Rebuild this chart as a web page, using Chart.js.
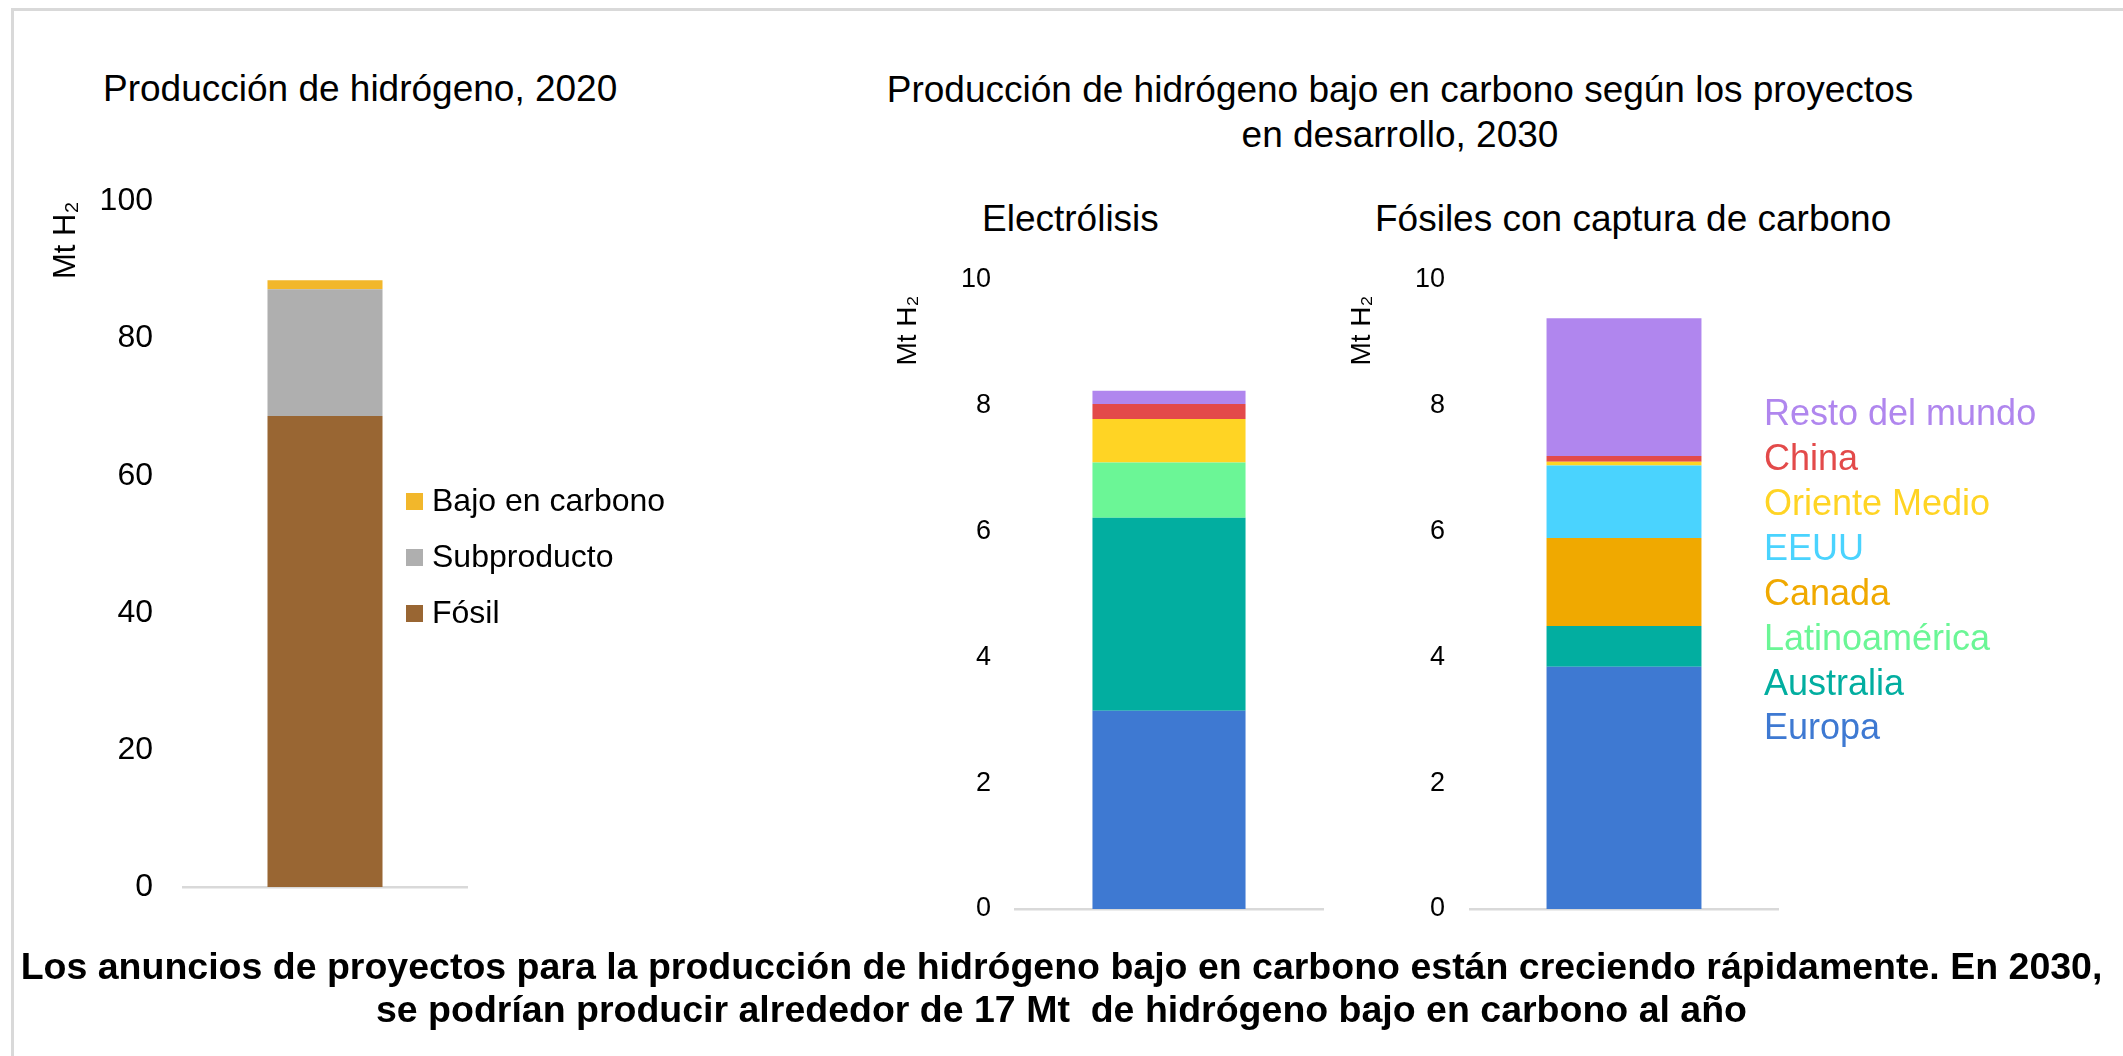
<!DOCTYPE html>
<html lang="es">
<head>
<meta charset="utf-8">
<title>Producción de hidrógeno</title>
<script src="https://cdn.jsdelivr.net/npm/chart.js@4.4.1/dist/chart.umd.min.js"></script>
<style>
  html, body { margin: 0; padding: 0; background: #fff; }
  body { width: 2123px; height: 1056px; position: relative; overflow: hidden;
         font-family: "Liberation Sans", Arial, sans-serif; color: #000; }
  .frame { position: absolute; left: 11px; top: 8px; right: -10px; bottom: -10px;
           border-top: 3px solid #d9d9d9; border-left: 3px solid #d9d9d9; }
  canvas { position: absolute; }
  .txt { position: absolute; white-space: nowrap; }
  .title { font-size: 37px; line-height: 37px; }
  .box { position: absolute; width: 17px; height: 17px; }
</style>
</head>
<body>
<div class="frame"></div>

<div class="txt title" style="left:103px; top:70px;">Producción de hidrógeno, 2020</div>
<div class="txt title" style="left:800px; width:1200px; top:67px; line-height:45px; text-align:center;">Producción de hidrógeno bajo en carbono según los proyectos<br>en desarrollo, 2030</div>
<div class="txt title" style="left:982px; top:200px;">Electrólisis</div>
<div class="txt title" style="left:1375px; top:200px;">Fósiles con captura de carbono</div>

<canvas id="c2020" width="500" height="789" style="left:0px; top:150px;"></canvas>
<canvas id="cElec" width="520" height="754" style="left:830px; top:200px;"></canvas>
<canvas id="cFos" width="520" height="754" style="left:1290px; top:200px;"></canvas>

<div id="legend2020"></div>
<div id="legend2030"></div>

<div class="txt" style="left:0; width:2123px; top:945px; line-height:43px; text-align:center; font-size:37.5px; font-weight:bold;">Los anuncios de proyectos para la producción de hidrógeno bajo en carbono están creciendo rápidamente. En 2030,<br>se podrían producir alrededor de 17 Mt&nbsp; de hidrógeno bajo en carbono al año</div>

<script>
// datos 2020
const cat2020 = ['2020'];
const fosil2020 = [68.7];
const subproducto2020 = [18.5];
const bajoCarbono2020 = [1.3];

// datos 2030, proyectos en desarrollo (Mt H2)
const cat2030 = ['2030'];
const regiones = ['Europa', 'Australia', 'Latinoamérica', 'Canada', 'EEUU', 'Oriente Medio', 'China', 'Resto del mundo'];
const electrolisis = [3.15, 3.07, 0.88, 0, 0, 0.69, 0.24, 0.21];
const fosilesCCUS = [3.85, 0.65, 0, 1.40, 1.15, 0.06, 0.09, 2.19];
const coloresRegion = ['#3E79D2', '#02AEA0', '#6BF696', '#F0A900', '#4AD3FE', '#FFD424', '#E34A4A', '#B086EE'];

const FONT = '"Liberation Sans", Arial, sans-serif';

function stackedBar(id, labels, datasets, o) {
    return new Chart(document.getElementById(id), {
        type: 'bar',
        data: { labels: labels, datasets: datasets },
        options: {
            responsive: false,
            animation: false,
            devicePixelRatio: 1,
            layout: { padding: o.padding },
            plugins: { legend: { display: false }, tooltip: { enabled: false } },
            scales: {
                x: {
                    stacked: true,
                    grid: { display: false, drawTicks: false, tickLength: 0 },
                    ticks: { display: false },
                    border: { display: true, color: '#d9d9d9', width: 2.5 }
                },
                y: {
                    stacked: true,
                    min: 0,
                    max: o.max,
                    grid: { display: false, drawTicks: false, tickLength: 0 },
                    border: { display: false },
                    ticks: { stepSize: o.step, padding: o.tickPad, color: '#000',
                             font: { family: FONT, size: o.tickSize } },
                    title: { display: true, text: o.axisTitle, align: 'end', color: '#000',
                             font: { family: FONT, size: o.titleSize },
                             padding: { top: o.titlePad, bottom: 0 } },
                    afterFit: function (scale) { scale.width = o.axisWidth; }
                }
            }
        }
    });
}

function ds(label, values, color, pct) {
    return { label: label, data: values, backgroundColor: color, borderWidth: 0,
             barPercentage: pct, categoryPercentage: 1 };
}

const series2020 = [
    ['Fósil', fosil2020, '#996633'],
    ['Subproducto', subproducto2020, '#AFAFAF'],
    ['Bajo en carbono', bajoCarbono2020, '#F2B72B']
];

stackedBar('c2020', cat2020, series2020.map(s => ds(s[0], s[1], s[2], 0.405)), {
    padding: { top: 51.5, right: 33, bottom: 52, left: 0 },
    max: 100, step: 20, tickPad: 30, tickSize: 32, axisTitle: 'Mt H₂',
    titleSize: 31, titlePad: 48, axisWidth: 183
});

stackedBar('cElec', cat2030, regiones.map((r, i) => ds(r, [electrolisis[i]], coloresRegion[i], 0.497)), {
    padding: { top: 80, right: 27, bottom: 45, left: 0 },
    max: 10, step: 2, tickPad: 24, tickSize: 27, axisTitle: 'Mt H₂\u00a0\u00a0',
    titleSize: 28, titlePad: 61, axisWidth: 185
});

stackedBar('cFos', cat2030, regiones.map((r, i) => ds(r, [fosilesCCUS[i]], coloresRegion[i], 0.503)), {
    padding: { top: 80, right: 32, bottom: 45, left: 0 },
    max: 10, step: 2, tickPad: 25, tickSize: 27, axisTitle: 'Mt H₂\u00a0\u00a0',
    titleSize: 28, titlePad: 55, axisWidth: 180
});

// leyenda 2020 (arriba: Bajo en carbono)
const leg1 = document.getElementById('legend2020');
series2020.slice().reverse().forEach((s, i) => {
    const base = 511.5 + 56 * i;
    const b = document.createElement('div');
    b.className = 'box';
    b.style.left = '406px';
    b.style.top = (base - 18.5) + 'px';
    b.style.background = s[2];
    leg1.appendChild(b);
    const t = document.createElement('div');
    t.className = 'txt';
    t.style.cssText += 'left:432px; font-size:32px; line-height:32px; top:' + (base - 27.1) + 'px;';
    t.textContent = s[0];
    leg1.appendChild(t);
});

// leyenda 2030 (texto de color, Resto del mundo arriba)
const leg2 = document.getElementById('legend2030');
regiones.slice().reverse().forEach((r, i) => {
    const base = 425.6 + 44.9 * i;
    const t = document.createElement('div');
    t.className = 'txt';
    t.style.cssText += 'left:1764px; font-size:36px; line-height:36px; top:' + (base - 30.5) + 'px;';
    t.style.color = coloresRegion[regiones.length - 1 - i];
    t.textContent = r;
    leg2.appendChild(t);
});
</script>
</body>
</html>
